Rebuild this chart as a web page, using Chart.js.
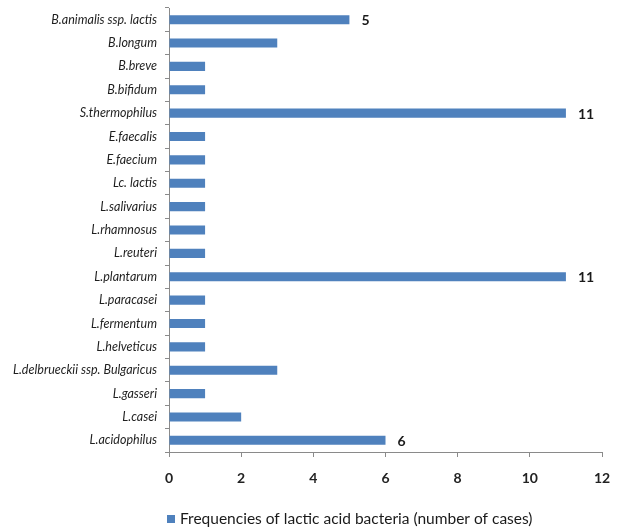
<!DOCTYPE html>
<html>
<head>
<meta charset="utf-8">
<script src="https://cdn.jsdelivr.net/npm/chart.js@4/dist/chart.umd.min.js"></script>
<style>
  html, body { margin: 0; padding: 0; background: #ffffff; }
  #wrap { width: 626px; height: 531px; }
</style>
</head>
<body>
<div id="wrap"><canvas id="chart" width="626" height="531"></canvas></div>
<script>
// Species, listed top to bottom
const species = [
  'B.animalis ssp. lactis', 'B.longum', 'B.breve', 'B.bifidum', 'S.thermophilus',
  'E.faecalis', 'E.faecium', 'Lc. lactis', 'L.salivarius', 'L.rhamnosus',
  'L.reuteri', 'L.plantarum', 'L.paracasei', 'L.fermentum', 'L.helveticus',
  'L.delbrueckii ssp. Bulgaricus', 'L.gasseri', 'L.casei', 'L.acidophilus'
];
// Number of cases per species
const cases = [5, 3, 1, 1, 11, 1, 1, 1, 1, 1, 1, 11, 1, 1, 1, 3, 1, 2, 6];
// Which bars carry a printed value
const showValue = [true, false, false, false, true, false, false, false, false, false,
                   false, true, false, false, false, false, false, false, true];
const xTicks = [0, 2, 4, 6, 8, 10, 12];
const seriesName = 'Frequencies of lactic acid bacteria (number of cases)';

const BAR = '#4F81BD';
const AXIS = '#8a8a8a';
const FONT = 'Lato, "Open Sans", sans-serif';

// Value labels at the end of selected bars
const valueLabels = {
  id: 'valueLabels',
  afterDatasetsDraw(chart) {
    const ctx = chart.ctx;
    const meta = chart.getDatasetMeta(0);
    ctx.save();
    ctx.font = 'bold 14px ' + FONT;
    ctx.fillStyle = '#1a1a1a';
    ctx.textAlign = 'left';
    ctx.textBaseline = 'middle';
    meta.data.forEach((bar, i) => {
      if (!showValue[i]) return;
      ctx.fillText(String(chart.data.datasets[0].data[i]), bar.x + 12, bar.y + 1);
    });
    ctx.restore();
  }
};

// Legend entry below the axis
const bottomLegend = {
  id: 'bottomLegend',
  afterDraw(chart) {
    const ctx = chart.ctx;
    const ds = chart.data.datasets[0];
    const x0 = chart.chartArea.left - 2;
    const y0 = 519;
    ctx.save();
    ctx.fillStyle = ds.backgroundColor;
    ctx.fillRect(x0, y0 - 4, 8, 8);
    ctx.font = '15.5px ' + FONT;
    ctx.fillStyle = '#1a1a1a';
    ctx.textAlign = 'left';
    ctx.textBaseline = 'middle';
    ctx.fillText(ds.label, x0 + 13, y0);
    ctx.restore();
  }
};

new Chart(document.getElementById('chart'), {
  type: 'bar',
  data: {
    labels: species,
    datasets: [{
      label: seriesName,
      data: cases,
      backgroundColor: BAR,
      borderWidth: 0,
      categoryPercentage: 1,
      barPercentage: 0.39
    }]
  },
  options: {
    indexAxis: 'y',
    responsive: false,
    animation: false,
    devicePixelRatio: 1,
    layout: { padding: { top: 8, right: 24, bottom: 0, left: 0 } },
    plugins: {
      legend: { display: false },
      tooltip: { enabled: false }
    },
    scales: {
      x: {
        min: 0,
        max: 12,
        afterBuildTicks(scale) { scale.ticks = xTicks.map(v => ({ value: v })); },
        afterFit(scale) { scale.height = 79; },
        grid: {
          display: true,
          drawOnChartArea: false,
          drawTicks: true,
          tickLength: 5,
          color: AXIS
        },
        border: { display: true, color: AXIS, width: 1 },
        ticks: {
          padding: 13,
          color: '#222222',
          font: { family: FONT, size: 14, weight: 'bold' }
        }
      },
      y: {
        afterFit(scale) {
          scale.width = 169;
          scale.paddingTop = 0;
          scale.paddingBottom = 0;
        },
        grid: {
          display: true,
          offset: true,
          drawOnChartArea: false,
          drawTicks: true,
          tickLength: 4,
          color: AXIS
        },
        border: { display: true, color: AXIS, width: 1 },
        ticks: {
          padding: 8,
          autoSkip: false,
          color: '#1f1f1f',
          font: { family: FONT, size: 12.5, style: 'italic' }
        }
      }
    }
  },
  plugins: [valueLabels, bottomLegend]
});
</script>
</body>
</html>
